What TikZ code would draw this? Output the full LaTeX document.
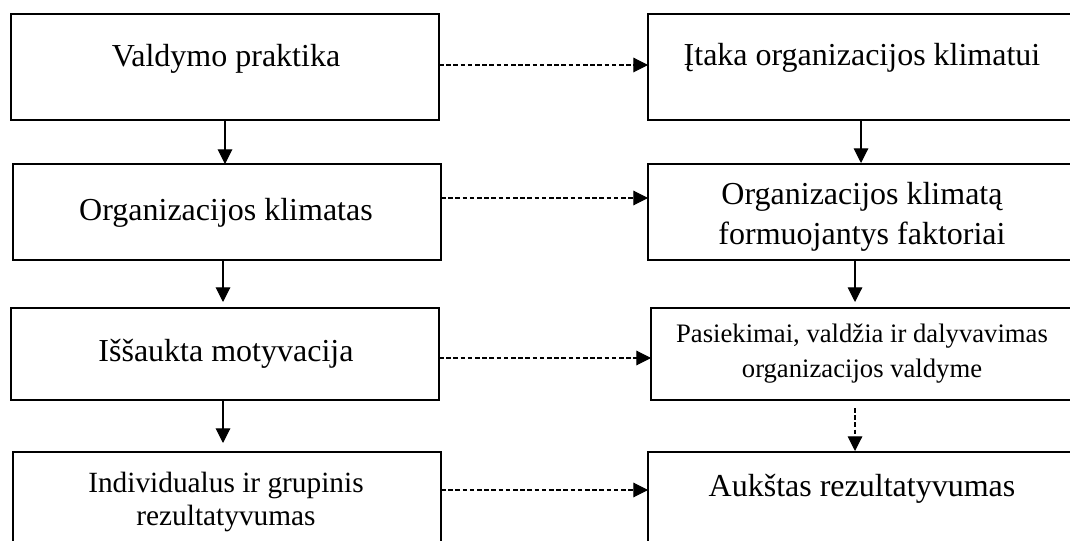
\documentclass[tikz,border=0pt]{standalone}
\usepackage{fontspec}
\setmainfont{Liberation Serif}
\usetikzlibrary{arrows.meta}
\begin{document}
\begin{tikzpicture}[x=0.75pt,y=-0.75pt,
  box/.style={draw, line width=1.8pt, inner sep=0pt, outer sep=0pt, anchor=north west, minimum width=321pt},
  txt/.style={anchor=base, inner sep=0pt, font=\fontsize{24}{29}\selectfont},
  txtm/.style={txt, font=\fontsize{22}{26}\selectfont},
  txts/.style={txt, font=\fontsize{20}{24}\selectfont},
  solidarrow/.style={-{Triangle[width=11pt,length=11pt]}, line width=0.8pt},
  dasharrow/.style={solidarrow, dash pattern=on 3.4pt off 2pt}]
\useasboundingbox (0,0) rectangle (1070,541);
\clip (0,0) rectangle (1070,541);
% left column
\node[box, minimum height=79.5pt] (L1) at (11,14) {};
\node[box, minimum height=72pt] (L2) at (13,164) {};
\node[box, minimum height=69pt] (L3) at (11,308) {};
\node[box, minimum height=90pt] (L4) at (13,452) {};
% right column
\node[box, minimum height=79.5pt] (R1) at (648,14) {};
\node[box, minimum height=72pt] (R2) at (648,164) {};
\node[box, minimum height=69pt] (R3) at (651,308) {};
\node[box, minimum height=90pt] (R4) at (648,452) {};
% texts
\node[txt] (L1t) at (226,67) {Valdymo praktika};
\node[txt] (L2t) at (226,221) {Organizacijos klimatas};
\node[txt] (L3t) at (226,362) {Iššaukta motyvacija};
\node[txtm] (L4a) at (226,492) {Individualus ir grupinis};
\node[txtm] (L4b) at (226,525) {rezultatyvumas};
\node[txt] (R1t) at (862,66) {Įtaka organizacijos klimatui};
\node[txt] (R2a) at (862,205) {Organizacijos klimatą};
\node[txt] (R2b) at (862,245) {formuojantys faktoriai};
\node[txts] (R3a) at (862,343) {Pasiekimai, valdžia ir dalyvavimas};
\node[txts] (R3b) at (862,378) {organizacijos valdyme};
\node[txt] (R4t) at (862,496) {Aukštas rezultatyvumas};
% arrow end coordinates
\coordinate (a1) at (225,164);
\coordinate (a2) at (223,302);
\coordinate (a3) at (223,443);
\coordinate (b1) at (861,163);
\coordinate (b2) at (855,302);
\coordinate (b3s) at (855,408);
\coordinate (b3) at (855,451);
\coordinate (d1) at (0,65);
\coordinate (d2) at (0,198);
\coordinate (d3) at (0,358);
\coordinate (d4) at (0,490);
% vertical connectors
\draw[solidarrow] (L1.south -| a1) -- (a1);
\draw[solidarrow] (L2.south -| a2) -- (a2);
\draw[solidarrow] (L3.south -| a3) -- (a3);
\draw[solidarrow] (R1.south -| b1) -- (b1);
\draw[solidarrow] (R2.south -| b2) -- (b2);
\draw[dasharrow] (b3s) -- (b3);
% horizontal dashed connectors
\draw[dasharrow] (L1.east |- d1) -- (R1.west |- d1);
\draw[dasharrow] (L2.east |- d2) -- (R2.west |- d2);
\draw[dasharrow] (L3.east |- d3) -- (R3.west |- d3);
\draw[dasharrow] (L4.east |- d4) -- (R4.west |- d4);
\end{tikzpicture}
\end{document}
